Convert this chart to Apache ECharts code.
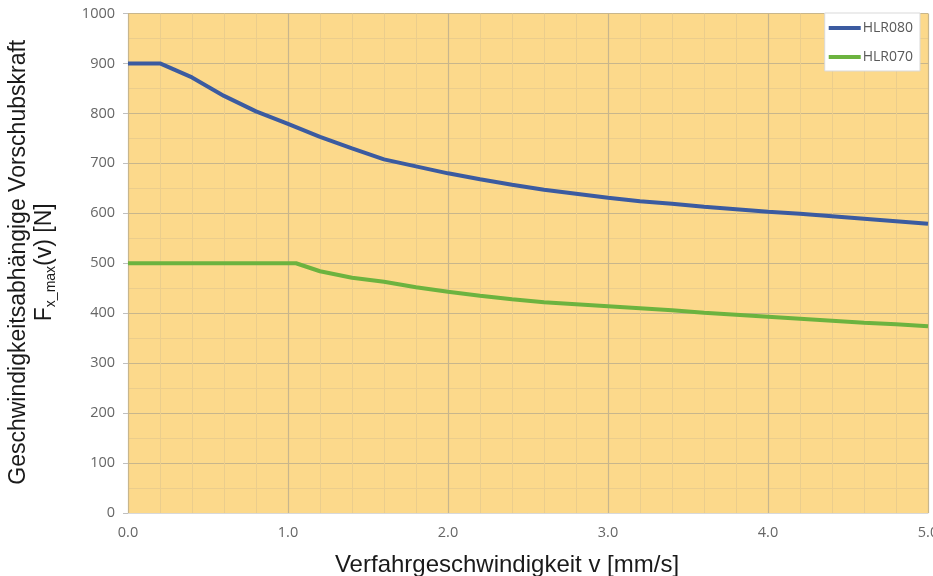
<!DOCTYPE html>
<html>
<head>
<meta charset="utf-8">
<script src="https://cdn.jsdelivr.net/npm/echarts@6/dist/echarts.min.js"></script>
<style>
html,body{margin:0;padding:0;background:#fff;}
#chart{width:933px;height:576px;}
</style>
</head>
<body>
<div id="chart"></div>
<script>
// ---- data ----
const seriesNames = ['HLR080', 'HLR070'];
const xHLR080 = [0, 0.2, 0.4, 0.6, 0.8, 1.0, 1.2, 1.4, 1.6, 1.8, 2.0, 2.2, 2.4, 2.6, 2.8, 3.0, 3.2, 3.4, 3.6, 3.8, 4.0, 4.2, 4.4, 4.6, 4.8, 5.0];
const yHLR080 = [900, 900, 872, 835, 804, 779, 753, 730, 708, 694, 680, 668, 657, 647, 639, 631, 624, 619, 613, 608, 603, 599, 594, 589, 584, 579];
const xHLR070 = [0, 0.2, 0.4, 0.6, 0.8, 1.0, 1.05, 1.2, 1.4, 1.6, 1.8, 2.0, 2.2, 2.4, 2.6, 2.8, 3.0, 3.2, 3.4, 3.6, 3.8, 4.0, 4.2, 4.4, 4.6, 4.8, 5.0];
const yHLR070 = [500, 500, 500, 500, 500, 500, 500, 484, 471, 463, 452, 443, 435, 428, 422, 418, 414, 410, 406, 401, 397, 393, 389, 385, 381, 378, 374];
const xTitle = 'Verfahrgeschwindigkeit v [mm/s]';
const yTitleLine1 = 'Geschwindigkeitsabhängige Vorschubskraft';
const yTitleMain = 'F';
const yTitleSub = 'x_max';
const yTitleRest = '(v) [N]';

const pairs = (xs, ys) => xs.map((x, i) => [x, ys[i]]);

const majorColor = '#C8B68C';
const minorColor = '#EBCD8C';
const labelColor = '#666666';

const chart = echarts.init(document.getElementById('chart'), null, {renderer: 'canvas'});
chart.setOption({
  animation: false,
  backgroundColor: '#ffffff',
  grid: {
    left: 128, right: 5, top: 13.5, bottom: 63,
    show: true, backgroundColor: '#FCD98B', borderWidth: 0,
    outerBoundsMode: 'none', containLabel: false
  },
  legend: {
    orient: 'vertical',
    right: 13, top: 13,
    backgroundColor: '#ffffff',
    borderColor: '#D9D9D9', borderWidth: 1,
    padding: [7, 7, 6, 4],
    itemGap: 13,
    itemWidth: 32, itemHeight: 4,
    icon: 'rect',
    textStyle: {fontFamily: 'Open Sans', fontSize: 14, color: '#595959', lineHeight: 16, padding: [0, 0, 0, -3]},
    data: seriesNames
  },
  xAxis: {
    type: 'value', min: 0, max: 5, interval: 1,
    name: xTitle, nameLocation: 'middle', nameGap: 40,
    nameTextStyle: {fontFamily: 'Liberation Sans', fontSize: 24, color: '#1a1a1a', padding: [0, 42, 0, 0]},
    axisLine: {show: true, lineStyle: {color: '#D9D9D9', width: 1}},
    axisTick: {show: false},
    axisLabel: {fontFamily: 'Open Sans', fontSize: 14.5, color: labelColor, margin: 12, formatter: v => v.toFixed(1)},
    splitLine: {show: true, lineStyle: {color: majorColor, width: 1.2}},
    minorTick: {show: false, splitNumber: 5},
    minorSplitLine: {show: true, lineStyle: {color: minorColor, width: 1}}
  },
  yAxis: {
    type: 'value', min: 0, max: 1000, interval: 100,
    name: yTitleLine1 + '\n{m|' + yTitleMain + '}{s|' + yTitleSub + '}{m|' + yTitleRest + '}',
    nameLocation: 'middle', nameGap: 70, nameRotate: 90,
    nameTextStyle: {
      fontFamily: 'Liberation Sans', fontSize: 23, color: '#1a1a1a', lineHeight: 26,
      padding: [0, 0, 0, 2],
      rich: {
        m: {fontFamily: 'Liberation Sans', fontSize: 23, color: '#1a1a1a', lineHeight: 26},
        s: {fontFamily: 'Liberation Sans', fontSize: 14, color: '#1a1a1a', lineHeight: 14, verticalAlign: 'bottom'}
      }
    },
    axisLine: {show: false},
    axisTick: {show: true, length: 5, lineStyle: {color: '#BFBFBF'}},
    axisLabel: {fontFamily: 'Open Sans', fontSize: 14.5, color: labelColor, margin: 13, formatter: v => String(v)},
    splitLine: {show: true, lineStyle: {color: majorColor, width: 1.2}},
    minorTick: {show: false, splitNumber: 2},
    minorSplitLine: {show: true, lineStyle: {color: minorColor, width: 1}}
  },
  series: [
    {
      name: seriesNames[0], type: 'line', data: pairs(xHLR080, yHLR080),
      showSymbol: false, symbol: 'none', smooth: false,
      lineStyle: {color: '#3B5BA0', width: 4},
      itemStyle: {color: '#3B5BA0'}
    },
    {
      name: seriesNames[1], type: 'line', data: pairs(xHLR070, yHLR070),
      showSymbol: false, symbol: 'none', smooth: false,
      lineStyle: {color: '#6CB33F', width: 4},
      itemStyle: {color: '#6CB33F'}
    }
  ]
});
</script>
</body>
</html>
